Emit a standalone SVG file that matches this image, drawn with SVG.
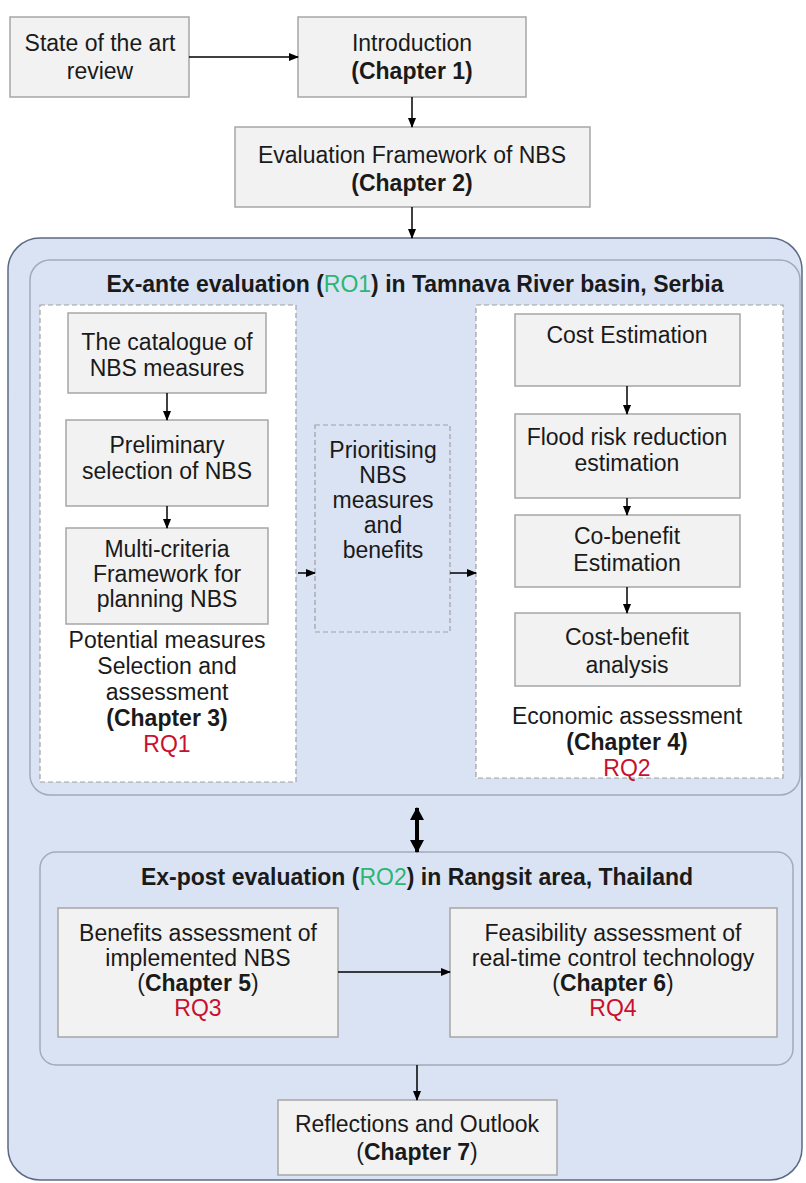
<svg xmlns="http://www.w3.org/2000/svg" width="806" height="1183" viewBox="0 0 806 1183">
<defs>
<marker id="ah" markerWidth="10" markerHeight="10" refX="9" refY="5" orient="auto" markerUnits="userSpaceOnUse">
<path d="M0,1 L10,5 L0,9 Z" fill="#000"/>
</marker>
<marker id="ahb" markerWidth="14" markerHeight="14" refX="12" refY="7" orient="auto-start-reverse" markerUnits="userSpaceOnUse">
<path d="M0,0 L13,7 L0,14 Z" fill="#000"/>
</marker>
<style>
text{font-family:"Liberation Sans",Arial,sans-serif;font-size:23px;fill:#1a1a1a;text-anchor:middle}
.b{font-weight:bold}
.g{fill:#2bb673}
.r{fill:#c8102e}
.box{fill:#f2f2f2;stroke:#a6a6a6;stroke-width:1.5}
.dash{fill:#fff;stroke:#a0a0a0;stroke-width:1.2;stroke-dasharray:5,3}
.dashb{fill:#dae3f3;stroke:#a0a0a0;stroke-width:1.2;stroke-dasharray:5,3}
.con line{stroke:#000;stroke-width:1.5;marker-end:url(#ah)}
</style>
</defs>
<rect width="806" height="1183" fill="#fff"/>

<g id="outer">
<rect x="8" y="238" width="794" height="942" rx="32" fill="#dae3f3" stroke="#5b6a84" stroke-width="1.5"/>
</g>
<g id="exante">
<rect x="30" y="260" width="770" height="535" rx="20" fill="#dae3f3" stroke="#a3abba" stroke-width="1.5"/>
<text class="b" x="415" y="292">Ex-ante evaluation (<tspan class="g" font-weight="normal">RO1</tspan>) in  Tamnava River basin, Serbia</text>
</g>
<g id="panel-left">
<rect class="dash" x="40" y="305" width="256" height="477"/>
<text x="167" y="648">Potential measures</text>
<text x="167" y="674">Selection and</text>
<text x="167" y="700">assessment</text>
<text class="b" x="167" y="726">(Chapter 3)</text>
<text class="r" x="167" y="752">RQ1</text>
</g>
<g id="panel-right">
<rect class="dash" x="476" y="305" width="307" height="473"/>
<text x="627" y="724">Economic assessment</text>
<text class="b" x="627" y="750">(Chapter 4)</text>
<text class="r" x="627" y="776">RQ2</text>
</g>
<g id="expost">
<rect x="40" y="852" width="753" height="213" rx="16" fill="#dae3f3" stroke="#a3abba" stroke-width="1.5"/>
<text class="b" x="417" y="885">Ex-post evaluation (<tspan class="g" font-weight="normal">RO2</tspan>) in Rangsit area, Thailand</text>
</g>

<g id="state">
<rect class="box" x="10" y="17" width="179" height="80"/>
<text x="100" y="51">State of the art</text>
<text x="100" y="79">review</text>
</g>
<g id="intro">
<rect class="box" x="298" y="17" width="228" height="80"/>
<text x="412" y="51">Introduction</text>
<text class="b" x="412" y="79">(Chapter 1)</text>
</g>
<g id="evalfw">
<rect class="box" x="235" y="127" width="355" height="80"/>
<text x="412" y="163">Evaluation  Framework of NBS</text>
<text class="b" x="412" y="191">(Chapter 2)</text>
</g>
<g id="catalogue">
<rect class="box" x="68" y="313" width="198" height="80"/>
<text x="167" y="350">The catalogue of</text>
<text x="167" y="376">NBS measures</text>
</g>
<g id="prelim">
<rect class="box" x="66" y="420" width="202" height="86"/>
<text x="167" y="453">Preliminary</text>
<text x="167" y="479">selection of NBS</text>
</g>
<g id="multi">
<rect class="box" x="66" y="528" width="202" height="96"/>
<text x="167" y="557">Multi-criteria</text>
<text x="167" y="582">Framework for</text>
<text x="167" y="607">planning NBS</text>
</g>
<g id="prioritising">
<rect class="dashb" x="315" y="425" width="135" height="207"/>
<text x="383" y="458">Prioritising</text>
<text x="383" y="483">NBS</text>
<text x="383" y="508">measures</text>
<text x="383" y="533">and</text>
<text x="383" y="558">benefits</text>
</g>
<g id="cost">
<rect class="box" x="515" y="314" width="225" height="72"/>
<text x="627" y="343">Cost Estimation</text>
</g>
<g id="flood">
<rect class="box" x="515" y="414" width="225" height="84"/>
<text x="627" y="445">Flood risk reduction</text>
<text x="627" y="471">estimation</text>
</g>
<g id="cobenefit">
<rect class="box" x="515" y="515" width="225" height="72"/>
<text x="627" y="544">Co-benefit</text>
<text x="627" y="571">Estimation</text>
</g>
<g id="costbenefit">
<rect class="box" x="515" y="613" width="225" height="73"/>
<text x="627" y="645">Cost-benefit</text>
<text x="627" y="673">analysis</text>
</g>
<g id="benefits">
<rect class="box" x="58" y="908" width="280" height="129"/>
<text x="198" y="941">Benefits assessment of</text>
<text x="198" y="966">implemented NBS</text>
<text x="198" y="991">(<tspan class="b">Chapter 5</tspan>)</text>
<text class="r" x="198" y="1016">RQ3</text>
</g>
<g id="feasibility">
<rect class="box" x="450" y="908" width="327" height="129"/>
<text x="613" y="941">Feasibility assessment of</text>
<text x="613" y="966">real-time control technology</text>
<text x="613" y="991">(<tspan class="b">Chapter 6</tspan>)</text>
<text class="r" x="613" y="1016">RQ4</text>
</g>
<g id="reflections">
<rect class="box" x="278" y="1100" width="279" height="75"/>
<text x="417" y="1132">Reflections and Outlook</text>
<text x="417" y="1160">(<tspan class="b">Chapter 7</tspan>)</text>
</g>

<g id="connectors" class="con">
<line x1="189" y1="57" x2="298" y2="57"/>
<line x1="412" y1="97" x2="412" y2="127"/>
<line x1="412" y1="207" x2="412" y2="238"/>
<line x1="167" y1="393" x2="167" y2="420"/>
<line x1="167" y1="506" x2="167" y2="528"/>
<line x1="298" y1="573" x2="315" y2="573"/>
<line x1="450" y1="573" x2="476" y2="573"/>
<line x1="627" y1="386" x2="627" y2="414"/>
<line x1="627" y1="498" x2="627" y2="515"/>
<line x1="627" y1="587" x2="627" y2="613"/>
<line x1="338" y1="972" x2="450" y2="972"/>
<line x1="417" y1="1065" x2="417" y2="1100"/>
<line x1="417" y1="808" x2="417" y2="852" style="stroke-width:4;marker-start:url(#ahb);marker-end:url(#ahb)"/>
</g>
</svg>
